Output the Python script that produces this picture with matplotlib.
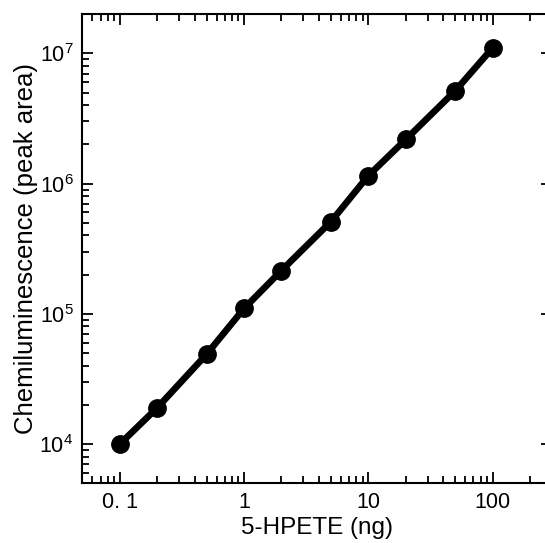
import numpy as np
import matplotlib
matplotlib.use('Agg')
import matplotlib.pyplot as plt
from matplotlib.ticker import FixedLocator, FixedFormatter, LogLocator, NullFormatter

# 5-HPETE amount (ng) vs chemiluminescence peak area
hpete_ng = [0.1, 0.2, 0.5, 1, 2, 5, 10, 20, 50, 100]
peak_area = [1.0e4, 1.9e4, 4.9e4, 1.1e5, 2.15e5, 5.1e5, 1.15e6, 2.18e6, 5.15e6, 1.1e7]

x_ticks = [0.1, 1, 10, 100]
x_tick_labels = ['0. 1', '1', '10', '100']
y_ticks = [1e4, 1e5, 1e6, 1e7]
y_tick_labels = ['$10^4$', '$10^5$', '$10^6$', '$10^7$']

plt.rcParams['font.family'] = ['Liberation Sans', 'DejaVu Sans']
plt.rcParams['mathtext.fontset'] = 'custom'
plt.rcParams['mathtext.rm'] = 'Liberation Sans'
plt.rcParams['mathtext.it'] = 'Liberation Sans'

fig = plt.figure(figsize=(5.45, 5.43), dpi=100)
ax = fig.add_axes([0.150, 0.110, 0.862, 0.864])

ax.plot(hpete_ng, peak_area, color='black', lw=4.8, marker='o',
        markersize=12.5, solid_capstyle='butt')

ax.set_xscale('log')
ax.set_yscale('log')
ax.set_xlim(0.0494, 298)
ax.set_ylim(5000, 2e7)

ax.xaxis.set_major_locator(FixedLocator(x_ticks))
ax.xaxis.set_major_formatter(FixedFormatter(x_tick_labels))
ax.yaxis.set_major_locator(FixedLocator(y_ticks))
ax.yaxis.set_major_formatter(FixedFormatter(y_tick_labels))
ax.xaxis.set_minor_locator(LogLocator(base=10, subs=np.arange(2, 10), numticks=20))
ax.yaxis.set_minor_locator(LogLocator(base=10, subs=np.arange(2, 10), numticks=20))
ax.xaxis.set_minor_formatter(NullFormatter())
ax.yaxis.set_minor_formatter(NullFormatter())

ax.tick_params(which='both', direction='in', top=True, right=True, width=1.3,
               labelsize=15.5)
ax.tick_params(axis='x', pad=6)
ax.tick_params(axis='y', pad=6)
ax.tick_params(which='major', length=8)
ax.tick_params(which='minor', length=5)
for s in ax.spines.values():
    s.set_linewidth(1.5)

ax.set_xlabel('5-HPETE (ng)', fontsize=17.5, labelpad=3)
ax.set_ylabel('Chemiluminescence (peak area)', fontsize=18.5, labelpad=1)

fig.savefig('out.png', dpi=100)
